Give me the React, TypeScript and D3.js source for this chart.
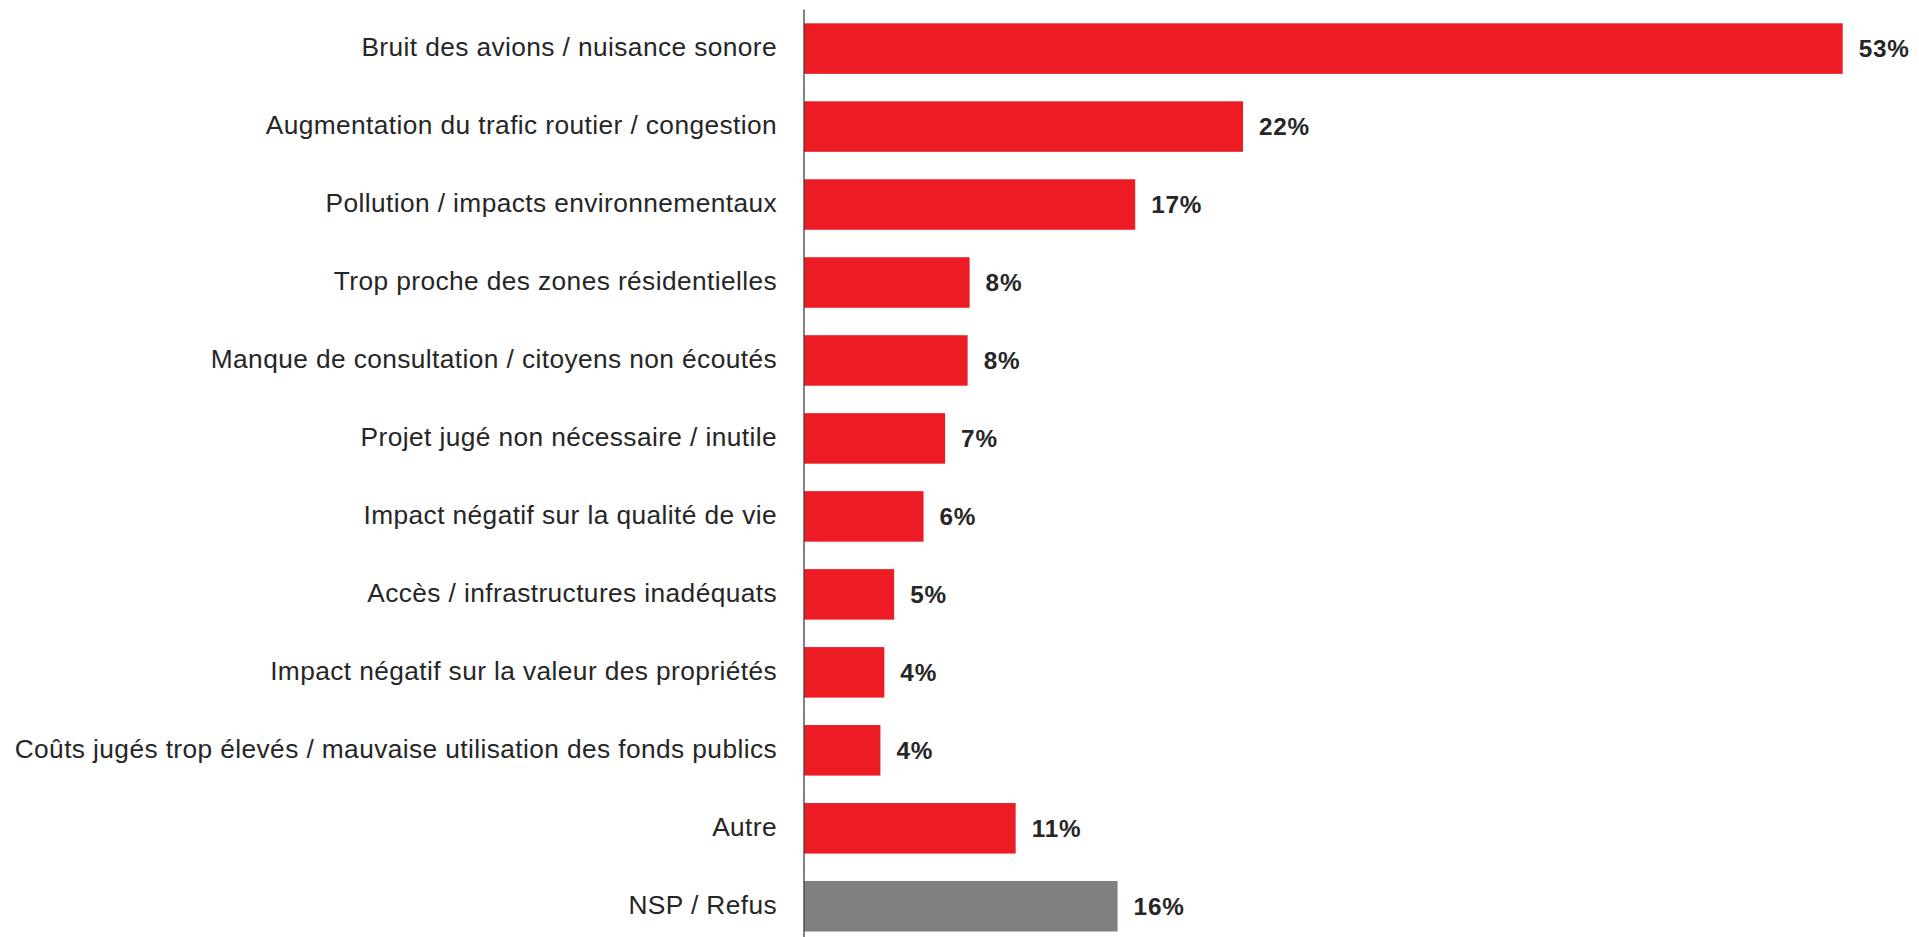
import React from "react";
import * as d3 from "d3";

const categories = [
  "Bruit des avions / nuisance sonore",
  "Augmentation du trafic routier / congestion",
  "Pollution / impacts environnementaux",
  "Trop proche des zones résidentielles",
  "Manque de consultation / citoyens non écoutés",
  "Projet jugé non nécessaire / inutile",
  "Impact négatif sur la qualité de vie",
  "Accès / infrastructures inadéquats",
  "Impact négatif sur la valeur des propriétés",
  "Coûts jugés trop élevés / mauvaise utilisation des fonds publics",
  "Autre",
  "NSP / Refus",
];

const values = [53, 22.4, 16.9, 8.45, 8.35, 7.2, 6.1, 4.6, 4.1, 3.9, 10.8, 16.0];

const highlightCategory = "NSP / Refus";

const W = 1919;
const H = 937;
const AXIS_X = 804;
const RED = "#ED1C24";
const GRAY = "#808080";
const TEXT = "#262626";

export default function App() {
  const maxVal = d3.max(values) as number;
  const x = d3.scaleLinear().domain([0, maxVal]).range([AXIS_X, 1842.7]);
  const y = d3
    .scaleBand<string>()
    .domain(categories)
    .range([9.6, 9.6 + 12 * 77.97])
    .paddingInner(0.352)
    .paddingOuter(0.176);

  return (
    <svg
      width={W}
      height={H}
      style={{ position: "absolute", left: 0, top: 0, display: "block", background: "#fff" }}
    >
      {categories.map((c, i) => {
        const y0 = y(c) as number;
        const bw = y.bandwidth();
        const cy = y0 + bw / 2;
        const v = values[i];
        return (
          <g key={c}>
            <rect
              x={x(0)}
              y={y0}
              width={x(v) - x(0)}
              height={bw}
              fill={c === highlightCategory ? GRAY : RED}
            />
            <text
              x={AXIS_X - 27}
              y={cy + 7.8}
              textAnchor="end"
              fontFamily="'Liberation Sans', Arial, sans-serif"
              fontSize={26.3}
              letterSpacing={0.4}
              fill={TEXT}
            >
              {c}
            </text>
            <text
              x={x(v) + 16}
              y={cy + 8.5}
              fontFamily="'Liberation Sans', Arial, sans-serif"
              fontSize={24.3}
              letterSpacing={0.8}
              fontWeight="bold"
              fill={TEXT}
            >
              {Math.round(v) + "%"}
            </text>
          </g>
        );
      })}
      <line
        x1={AXIS_X}
        x2={AXIS_X}
        y1={y.range()[0]}
        y2={y.range()[1]}
        stroke="#404040"
        strokeWidth={1.3}
      />
    </svg>
  );
}
